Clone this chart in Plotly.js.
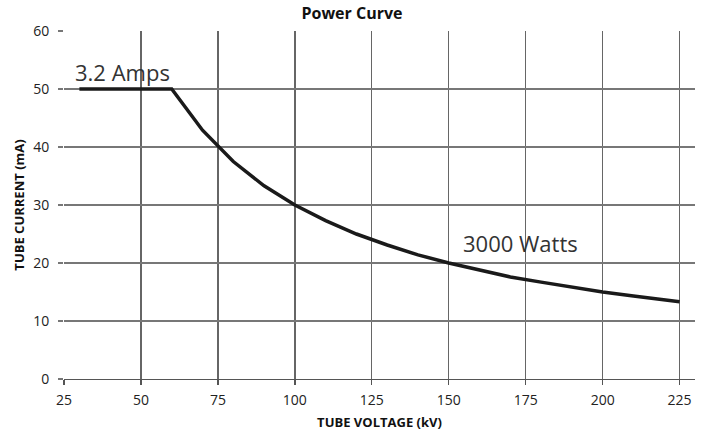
<!DOCTYPE html>
<html>
<head>
<meta charset="utf-8">
<script src="https://cdn.plot.ly/plotly-3.0.1.min.js"></script>
<style>html,body{margin:0;padding:0;background:#fff;}#chart{width:704px;height:433px;}</style>
</head>
<body>
<div id="chart"></div>
<script>
// Tube voltage (kV) and tube current (mA)
const voltage = [30, 60, 70, 80, 90, 100, 110, 120, 130, 140, 150, 160, 170, 180, 190, 200, 210, 220, 225];
const current = [50, 50, 42.9, 37.5, 33.3, 30, 27.3, 25, 23.1, 21.4, 20, 18.8, 17.6, 16.7, 15.8, 15, 14.3, 13.6, 13.3];
const xTicks = [25, 50, 75, 100, 125, 150, 175, 200, 225];
const yTicks = [0, 10, 20, 30, 40, 50, 60];
const labels = [
  {text: '3.2 Amps', x: 28, y: 50},
  {text: '3000 Watts', x: 154, y: 20.6}
];

const trace = {
  x: voltage, y: current, type: 'scatter', mode: 'lines',
  line: {color: '#1a1a1a', width: 3.5}, hoverinfo: 'skip'
};

const layout = {
  width: 704, height: 433,
  margin: {l: 64, r: 9, t: 31, b: 54},
  paper_bgcolor: '#fff', plot_bgcolor: '#fff',
  showlegend: false,
  title: {text: '<b>Power Curve</b>', x: 0.5, xanchor: 'center', y: 0.968, yanchor: 'middle',
          font: {family: 'Open Sans', size: 16, color: '#111'}},
  xaxis: {
    range: [25, 230], tickvals: xTicks, ticktext: xTicks.map(String),
    showgrid: true, gridcolor: '#666', gridwidth: 1.3,
    showline: true, linecolor: '#555', linewidth: 1.3,
    ticks: 'outside', ticklen: 5, tickcolor: '#555', tickwidth: 1.3,
    ticklabelstandoff: 3,
    zeroline: false,
    tickfont: {family: 'Open Sans', size: 14, color: '#222'},
    title: {text: '<b>TUBE VOLTAGE (kV)</b>', font: {family: 'Open Sans', size: 13, color: '#111'}, standoff: 9}
  },
  yaxis: {
    range: [0, 60], tickvals: yTicks, ticktext: yTicks.map(String),
    showgrid: true, gridcolor: '#777', gridwidth: 1.5,
    showline: false, zeroline: false,
    ticks: 'outside', ticklen: 5, tickcolor: '#777', tickwidth: 1.5,
    ticklabelstandoff: 6,
    tickfont: {family: 'Open Sans', size: 14, color: '#222'},
    title: {text: '<b>TUBE CURRENT (mA)</b>', font: {family: 'Open Sans', size: 13, color: '#111'}, standoff: 5}
  },
  annotations: labels.map(l => ({
    text: l.text, x: l.x, y: l.y, xref: 'x', yref: 'y',
    xanchor: 'left', yanchor: 'bottom', showarrow: false,
    font: {family: 'Open Sans', size: 22, color: '#333'},
    bgcolor: 'rgba(0,0,0,0)'
  }))
};

Plotly.newPlot('chart', [trace], layout, {displayModeBar: false, staticPlot: true});
</script>
</body>
</html>
